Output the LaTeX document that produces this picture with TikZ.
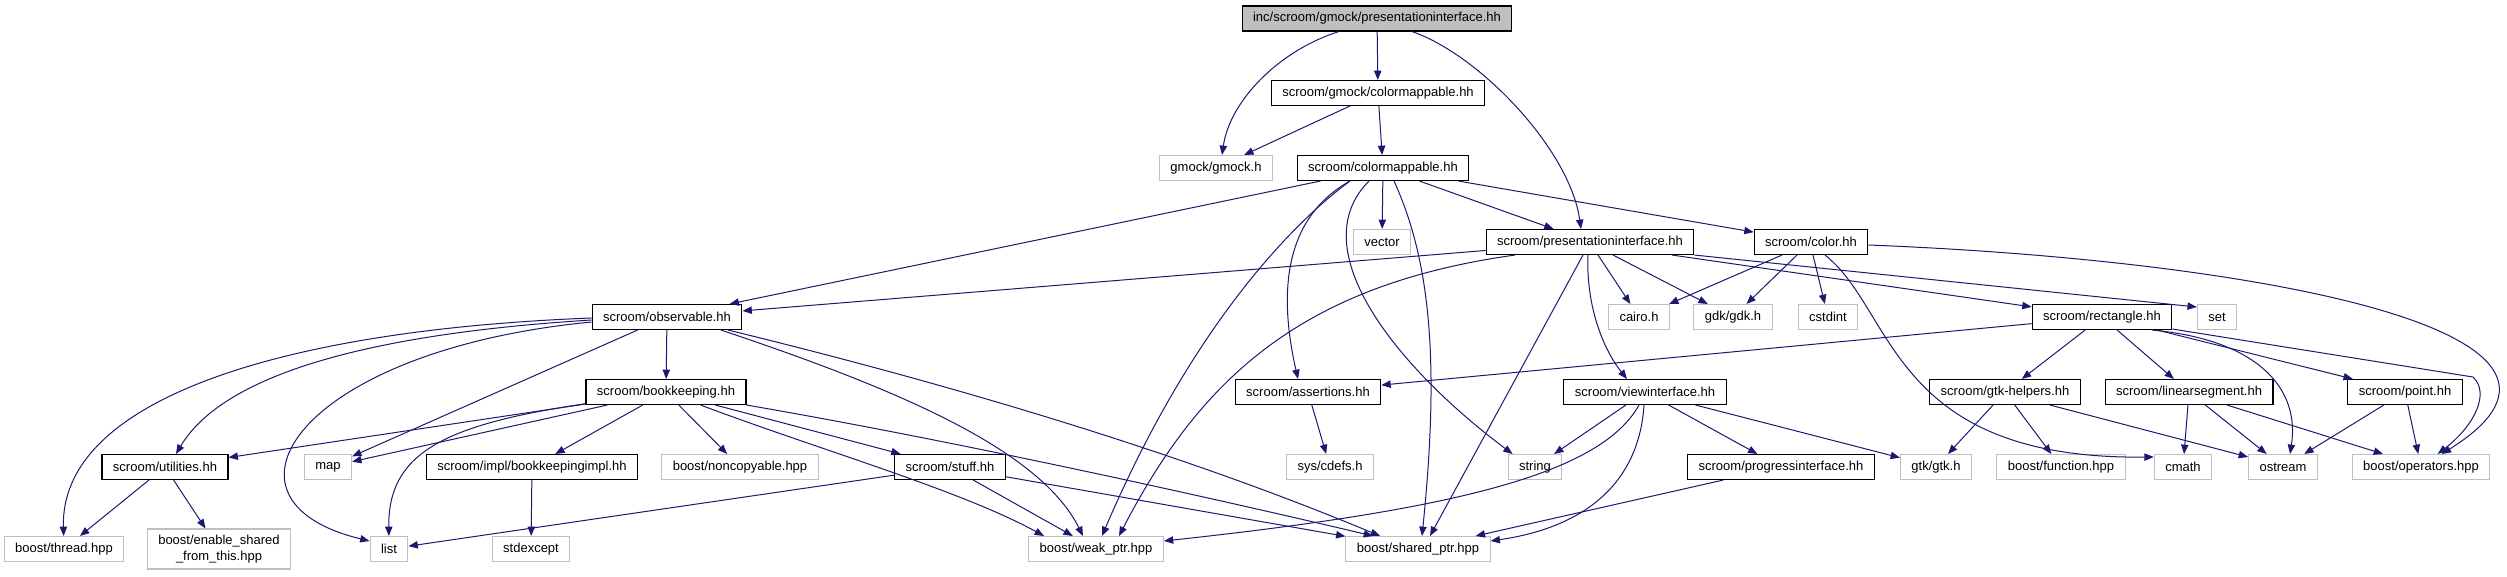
\documentclass[tikz,border=0pt]{standalone}
\usepackage{fontspec}
\setmainfont{Liberation Sans}
\usetikzlibrary{arrows.meta}
\definecolor{edgeblue}{HTML}{191970}
\definecolor{sysgray}{HTML}{BFBFBF}

\begin{document}
\begin{tikzpicture}[
    x=0.75pt, y=-0.75pt,
    every node/.style={font=\fontsize{9.75}{12}\selectfont},
    hdr/.style={rectangle, draw=black, fill=white, line width=0.8pt, inner xsep=8.25pt, inner ysep=0pt, minimum height=18.75pt},
    syshdr/.style={hdr, draw=sysgray},
    roothdr/.style={hdr, fill=sysgray},
    dep/.style={-{Triangle[length=7pt, width=5.5pt]}, edgeblue, line width=0.75pt}
]
\useasboundingbox (0,0) rectangle (2507,576);

% ============ HEADERS ============
\node[roothdr] (root) at (1377,18.5) {inc/scroom/gmock/presentationinterface.hh};
\node[hdr] (gcmap) at (1378,93) {scroom/gmock/colormappable.hh};
\node[syshdr] (gmock) at (1216,168) {gmock/gmock.h};
\node[hdr] (cmap) at (1383,168) {scroom/colormappable.hh};
\node[syshdr] (vector) at (1382,242) {vector};
\node[hdr] (pres) at (1590,242) {scroom/presentationinterface.hh};
\node[hdr] (colorhh) at (1811,242) {scroom/color.hh};
\node[hdr] (obs) at (667,317) {scroom/observable.hh};
\node[syshdr] (cairo) at (1639,317) {cairo.h};
\node[syshdr] (gdk) at (1733,317) {gdk/gdk.h};
\node[syshdr] (cstdint) at (1828,317) {cstdint};
\node[hdr] (rect) at (2102,317) {scroom/rectangle.hh};
\node[syshdr] (setx) at (2217,317) {set};
\node[hdr] (book) at (666,392) {scroom/bookkeeping.hh};
\node[hdr] (assert) at (1308,392) {scroom/assertions.hh};
\node[hdr] (view) at (1645,392) {scroom/viewinterface.hh};
\node[hdr] (gtkhelp) at (2005,392) {scroom/gtk-helpers.hh};
\node[hdr] (linseg) at (2189,392) {scroom/linearsegment.hh};
\node[hdr] (point) at (2405,392) {scroom/point.hh};
\node[hdr] (util) at (165,467) {scroom/utilities.hh};
\node[syshdr] (map) at (328,467) {map};
\node[hdr] (bkimpl) at (532,467) {scroom/impl/bookkeepingimpl.hh};
\node[syshdr] (noncopy) at (740,467) {boost/noncopyable.hpp};
\node[hdr] (stuff) at (950,467) {scroom/stuff.hh};
\node[syshdr] (cdefs) at (1330,467) {sys/cdefs.h};
\node[syshdr] (string) at (1535,467) {string};
\node[hdr] (progress) at (1781,467) {scroom/progressinterface.hh};
\node[syshdr] (gtk) at (1936,467) {gtk/gtk.h};
\node[syshdr] (function) at (2061,467) {boost/function.hpp};
\node[syshdr] (cmath) at (2183,467) {cmath};
\node[syshdr] (ostream) at (2283,467) {ostream};
\node[syshdr] (operators) at (2421,467) {boost/operators.hpp};
\node[syshdr] (thread) at (64,549) {boost/thread.hpp};
\node[syshdr, align=center, minimum height=30pt] (enable) at (219,549) {boost/enable\_shared\\\_from\_this.hpp};
\node[syshdr] (list) at (389,549) {list};
\node[syshdr] (stdexcept) at (531,549) {stdexcept};
\node[syshdr] (weak) at (1096,549) {boost/weak\_ptr.hpp};
\node[syshdr] (shared) at (1418,549) {boost/shared\_ptr.hpp};

% ============ INCLUDES ============
% root file
\draw[dep] ([shift={(-38,0)}]root.south) .. controls (1280,50) and (1230,100) .. ([shift={(6,0)}]gmock.north);
\draw[dep] (root) -- (gcmap);
\draw[dep] ([shift={(35,0)}]root.south) .. controls (1480,55) and (1570,150) .. ([shift={(-9,0)}]pres.north);

% gmock/colormappable.hh
\draw[dep] (gcmap) -- (gmock);
\draw[dep] (gcmap) -- (cmap);

% colormappable.hh
\draw[dep] (cmap) -- (obs);
\draw[dep] (cmap) -- (vector);
\draw[dep] (cmap) -- (pres);
\draw[dep] (cmap) -- (colorhh);
\draw[dep] ([shift={(-33,0)}]cmap.south) .. controls (1280,220) and (1280,300) .. ([shift={(-10,0)}]assert.north);
\draw[dep] ([shift={(-33,0)}]cmap.south) .. controls (1290,225) and (1190,330) .. ([shift={(6,0)}]weak.north);
\draw[dep] ([shift={(-14,0)}]cmap.south) .. controls (1300,250) and (1400,370) .. ([shift={(5,0)}]string.north west);
\draw[dep] ([shift={(11,0)}]cmap.south) .. controls (1430,260) and (1440,360) .. ([shift={(4,0)}]shared.north);

% presentationinterface.hh
\draw[dep] (pres) -- (obs);
\draw[dep] ([shift={(-75,0)}]pres.south) .. controls (1300,285) and (1200,380) .. ([shift={(23,0)}]weak.north);
\draw[dep] ([shift={(-7,0)}]pres.south) -- ([shift={(12,0)}]shared.north);
\draw[dep] ([shift={(-2,0)}]pres.south) .. controls (1586,300) and (1600,345) .. ([shift={(-18,0)}]view.north);
\draw[dep] ([shift={(8,0)}]pres.south) -- (cairo);
\draw[dep] ([shift={(23,0)}]pres.south) -- (gdk);
\draw[dep] ([shift={(82,0)}]pres.south) -- (rect);
\draw[dep] (pres.south east) -- ([shift={(0,-10)}]setx.west);

% color.hh
\draw[dep] ([shift={(-29,0)}]colorhh.south) -- (cairo);
\draw[dep] ([shift={(-14,0)}]colorhh.south) -- (gdk);
\draw[dep] ([shift={(2,0)}]colorhh.south) -- (cstdint);
\draw[dep] ([shift={(14,0)}]colorhh.south) .. controls (1895,310) and (1890,460) .. ([shift={(0,3)}]cmath.north west);
\draw[dep] ([shift={(0,3)}]colorhh.east) .. controls (2250,260) and (2640,330) .. (operators);

% rectangle.hh
\draw[dep] (rect) -- (assert);
\draw[dep] (rect) -- (gtkhelp);
\draw[dep] (rect) -- (linseg);
\draw[dep] ([shift={(50,0)}]rect.south) .. controls (2260,340) and (2300,390) .. ([shift={(7,0)}]ostream.north);
\draw[dep] ([shift={(55,0)}]rect.south) -- (point);
\draw[dep] ([shift={(0,-1)}]rect.south east) -- (2473,377) .. controls (2490,393) and (2475,425) .. (operators);

% gtk-helpers.hh, linearsegment.hh, point.hh
\draw[dep] (gtkhelp) -- (gtk);
\draw[dep] (gtkhelp) -- (function);
\draw[dep] ([shift={(45,0)}]gtkhelp.south) -- ([shift={(0,3)}]ostream.north west);
\draw[dep] (linseg) -- (cmath);
\draw[dep] (linseg) -- (ostream);
\draw[dep] ([shift={(38,0)}]linseg.south) -- ([shift={(-38,0)}]operators.north);
\draw[dep] (point) -- (ostream);
\draw[dep] (point) -- (operators);

% viewinterface.hh
\draw[dep] (view) -- (string);
\draw[dep] ([shift={(-6,0)}]view.south) .. controls (1600,475) and (1450,510) .. ([shift={(0,-8)}]weak.east);
\draw[dep] ([shift={(-1,0)}]view.south) .. controls (1640,470) and (1600,525) .. ([shift={(0,-8)}]shared.east);
\draw[dep] (view) -- (progress);
\draw[dep] (view) -- (gtk);
\draw[dep] (progress) -- (shared);
\draw[dep] (assert) -- (cdefs);

% observable.hh
\draw[dep] (obs) -- (book);
\draw[dep] ([shift={(0,1)}]obs.west) .. controls (280,330) and (60,400) .. (thread);
\draw[dep] ([shift={(0,3)}]obs.west) .. controls (350,335) and (220,380) .. ([shift={(11,0)}]util.north);
\draw[dep] ([shift={(0,5)}]obs.west) .. controls (300,350) and (200,500) .. ([shift={(0,-8)}]list.west);
\draw[dep] (obs) -- (map);
\draw[dep] ([shift={(54,0)}]obs.south) .. controls (900,390) and (1040,450) .. ([shift={(-13,0)}]weak.north);
\draw[dep] ([shift={(61,0)}]obs.south) .. controls (900,372) and (1150,440) .. ([shift={(-38,0)}]shared.north);

% bookkeeping.hh
\draw[dep] (book) -- (util);
\draw[dep] (book) -- (map);
\draw[dep] (book) .. controls (440,425) and (388,455) .. (list);
\draw[dep] (book) -- (bkimpl);
\draw[dep] (book) -- (noncopy);
\draw[dep] (book) -- (stuff);
\draw[dep] (book) .. controls (820,450) and (960,490) .. ([shift={(-52,0)}]weak.north);
\draw[dep] (book.south east) .. controls (950,440) and (1200,495) .. ([shift={(-45,0)}]shared.north);

% leaves
\draw[dep] (bkimpl) -- (stdexcept);
\draw[dep] (stuff) -- (list);
\draw[dep] (stuff) -- (weak);
\draw[dep] (stuff) -- (shared);
\draw[dep] (util) -- (thread);
\draw[dep] (util) -- (enable);

\end{tikzpicture}
\end{document}
